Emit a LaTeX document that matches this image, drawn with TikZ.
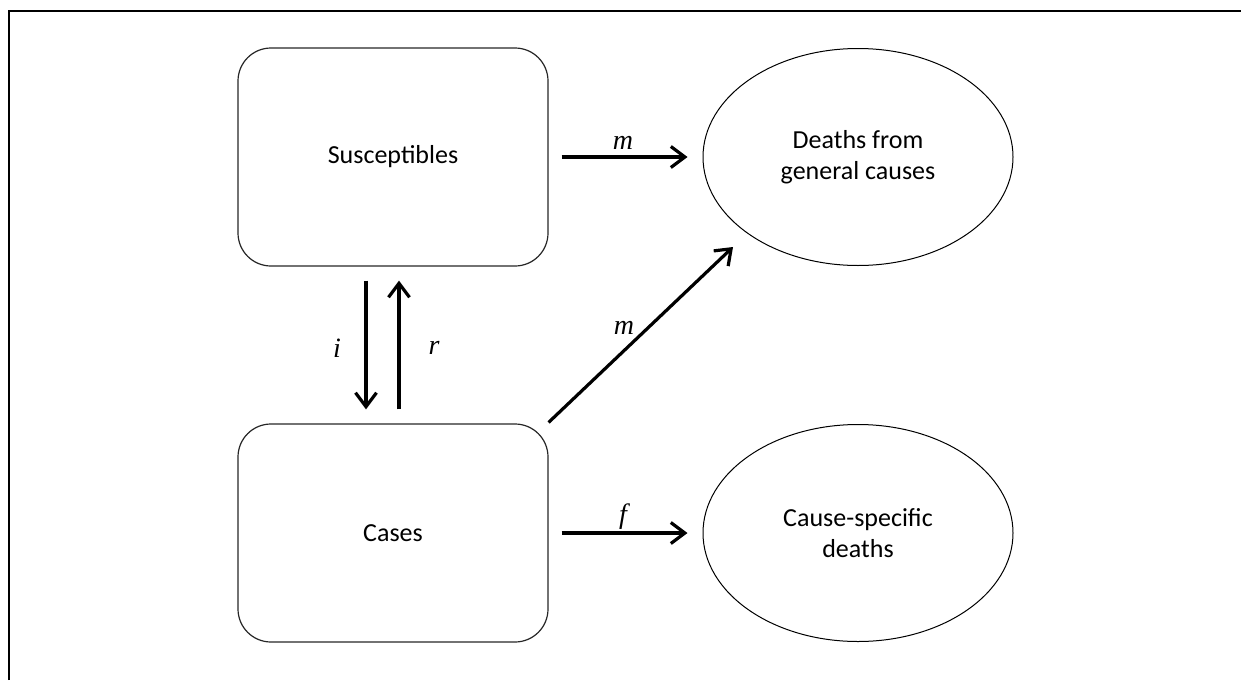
\documentclass[tikz,border=0pt]{standalone}
\usepackage{fontspec}
\setmainfont{Carlito}
\newfontfamily\tms{Liberation Serif}
\usetikzlibrary{shapes.geometric,arrows.meta,calc}
\begin{document}
\begin{tikzpicture}[x=1pt,y=-1pt,
  compbox/.style={draw=black!85,line width=1.2pt,rounded corners=33pt,minimum width=310pt,minimum height=218pt,inner sep=0pt,font=\fontsize{26}{31}\selectfont,align=center},
  outbox/.style={draw=black,ellipse,line width=1pt,minimum width=310pt,minimum height=217pt,inner sep=0pt,font=\fontsize{26}{31}\selectfont,align=center},
  flow/.style={line width=3.2pt,-{Straight Barb[length=14pt,width=21pt,line width=3.2pt]}},
  rate/.style={font=\tms\itshape\fontsize{28}{28}\selectfont,inner sep=0pt}]
\useasboundingbox (0,0) rectangle (1241,680);
\coordinate (fb) at (9,680);
\coordinate (fc) at (9,11);
\coordinate (fr) at (1241,11);
\draw[line width=2.8pt] (fb) -- (fc) -- (fr);
\node[compbox] (S) at (393,157) {Susceptibles};
\node[compbox] (C) at (393,533) {Cases};
\node[outbox] (G) at (858,157) {Deaths from\\general causes};
\node[outbox] (F) at (858,533) {Cause-specific\\deaths};
\coordinate (iS) at ($(S.south)+(-27,14)$);
\coordinate (iC) at ($(C.north)+(-27,-14)$);
\coordinate (rS) at ($(S.south)+(6,14)$);
\coordinate (rC) at ($(C.north)+(6,-14)$);
\draw[flow] (iS) -- (iC);
\draw[flow] (rC) -- (rS);
\node[rate] (li) at (337,348) {i};
\node[rate] (lr) at (434,348) {r};
\coordinate (mS) at ($(S.east)+(13,0)$);
\coordinate (mG) at ($(G.west)+(-15,0)$);
\draw[flow] (mS) -- (mG);
\node[rate] (lm1) at (623,143) {m};
\coordinate (dC) at ($(C.north east)+(0,-1)$);
\coordinate (dG) at (733,247);
\draw[flow] (dC) -- (dG);
\node[rate] (lm2) at (624,328) {m};
\coordinate (fC) at ($(C.east)+(13,0)$);
\coordinate (fF) at ($(F.west)+(-15,0)$);
\draw[flow] (fC) -- (fF);
\node[rate] (lf) at (623,517) {f};
\end{tikzpicture}
\end{document}
